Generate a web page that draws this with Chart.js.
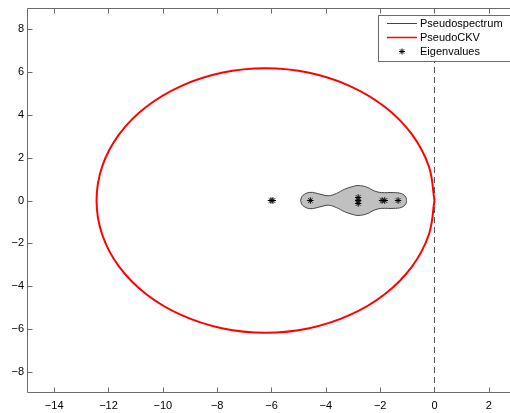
<!DOCTYPE html>
<html>
<head>
<meta charset="utf-8">
<script src="https://cdn.jsdelivr.net/npm/chart.js@4/dist/chart.umd.min.js"></script>
<style>
  html, body { margin: 0; padding: 0; overflow: hidden; background: #fff; width: 510px; height: 413px; }
  #c { display: block; }
</style>
</head>
<body>
<canvas id="c" width="510" height="413"></canvas>
<script>
// Axis ranges and tick marks (the view is open on the right, past x = 2)
const xRange = [-15, 2.78];
const yRange = [-9, 9];
const xTicks = [-14, -12, -10, -8, -6, -4, -2, 0, 2];
const yTicks = [-8, -6, -4, -2, 0, 2, 4, 6, 8];

// Eigenvalues (real and imaginary parts)
const eigRe = [-6.02, -5.95, -4.57, -2.81, -2.81, -2.81, -1.93, -1.83, -1.34];
const eigIm = [0, 0, 0, 0.14, 0, -0.14, 0, 0, 0];

// Pseudospectrum boundary (closed contour)
const psRe = [-4.93, -4.86, -4.59, -4.22, -3.91, -3.61, -3.30, -2.99, -2.81, -2.50, -2.20, -1.95, -1.52, -1.21, -1.06, -1.03,
              -1.06, -1.21, -1.52, -1.95, -2.20, -2.50, -2.81, -2.99, -3.30, -3.61, -3.91, -4.22, -4.59, -4.86, -4.93];
const psIm = [0, 0.22, 0.38, 0.30, 0.22, 0.33, 0.53, 0.66, 0.70, 0.63, 0.44, 0.37, 0.37, 0.32, 0.16, 0,
              -0.16, -0.32, -0.37, -0.37, -0.44, -0.63, -0.70, -0.66, -0.53, -0.33, -0.22, -0.30, -0.38, -0.22, 0];

// PseudoCKV boundary (closed contour)
const ckvRe = [0, -0.21, -0.83, -1.82, -3.11, -4.61, -6.22, -7.83, -9.33, -10.62, -11.61, -12.23, -12.44,
               -12.23, -11.61, -10.62, -9.33, -7.83, -6.22, -4.61, -3.11, -1.82, -0.83, -0.21, 0];
const ckvIm = [0, 1.60, 3.09, 4.37, 5.35, 5.97, 6.18, 5.97, 5.35, 4.37, 3.09, 1.60, 0,
               -1.60, -3.09, -4.37, -5.35, -5.97, -6.18, -5.97, -5.35, -4.37, -3.09, -1.60, 0];

// Imaginary axis (dashed)
const axisRe = [0, 0];
const axisIm = [-9, 9];

const pts = (xs, ys) => xs.map((x, i) => ({ x: x, y: ys[i] }));
const fmt = v => String(v).replace('-', '\u2212');
const FONT = '"Liberation Sans", Arial, Helvetica, sans-serif';

// Axes frame (left, top, bottom) with inward ticks
const frame = {
  id: 'frame',
  afterDatasetsDraw(chart) {
    const { ctx, chartArea: a, scales } = chart;
    const L = Math.round(a.left) + 0.5, R = Math.round(a.right);
    const T = Math.round(a.top) + 0.5, B = Math.round(a.bottom) - 0.5;
    const tl = 5;
    ctx.save();
    ctx.strokeStyle = '#6a6a6a';
    ctx.lineWidth = 1;
    ctx.beginPath();
    ctx.moveTo(R, T); ctx.lineTo(L, T); ctx.lineTo(L, B); ctx.lineTo(R, B);
    scales.x.ticks.forEach(t => {
      const px = Math.round(scales.x.getPixelForValue(t.value)) + 0.5;
      ctx.moveTo(px, B); ctx.lineTo(px, B - tl);
      ctx.moveTo(px, T); ctx.lineTo(px, T + tl);
    });
    scales.y.ticks.forEach(t => {
      const py = Math.round(scales.y.getPixelForValue(t.value)) + 0.5;
      ctx.moveTo(L, py); ctx.lineTo(L + tl, py);
    });
    ctx.stroke();
    ctx.restore();
  }
};

function asterisk(ctx, x, y, r) {
  ctx.beginPath();
  ctx.moveTo(x - r, y); ctx.lineTo(x + r, y);
  ctx.moveTo(x, y - r); ctx.lineTo(x, y + r);
  const d = r * 0.7071;
  ctx.moveTo(x - d, y - d); ctx.lineTo(x + d, y + d);
  ctx.moveTo(x - d, y + d); ctx.lineTo(x + d, y - d);
  ctx.stroke();
}

// Boxed legend in the upper right corner
const legendBox = {
  id: 'legendBox',
  afterDraw(chart) {
    const { ctx, chartArea: a } = chart;
    const items = chart.data.datasets.filter(d => d.label);
    const left = Math.round(a.right) - 132, right = left + 140, top = Math.round(a.top) + 7;
    const rowH = 14, h = 46;
    ctx.save();
    ctx.fillStyle = '#fff';
    ctx.fillRect(left, top, right - left, h);
    ctx.strokeStyle = '#6a6a6a';
    ctx.lineWidth = 1;
    ctx.strokeRect(left + 0.5, top + 0.5, right - left, h);
    ctx.font = '11px ' + FONT;
    ctx.textBaseline = 'middle';
    ctx.textAlign = 'left';
    items.forEach((d, i) => {
      const y = top + 8.5 + i * rowH;
      ctx.strokeStyle = d.legendColor;
      ctx.lineWidth = d.legendWidth;
      if (d.showLine) {
        ctx.beginPath();
        ctx.moveTo(left + 9, y); ctx.lineTo(left + 39, y);
        ctx.stroke();
      } else {
        asterisk(ctx, left + 24, y, 3);
      }
      ctx.fillStyle = '#000';
      ctx.fillText(d.label, left + 42, y);
    });
    ctx.restore();
  }
};

new Chart(document.getElementById('c'), {
  type: 'scatter',
  data: {
    datasets: [
      {
        label: 'Pseudospectrum',
        data: pts(psRe, psIm),
        showLine: true,
        tension: 0.4,
        borderColor: '#444',
        borderWidth: 1,
        backgroundColor: '#c0c0c0',
        fill: 'shape',
        pointRadius: 0,
        legendColor: '#444', legendWidth: 1,
        order: 2
      },
      {
        label: 'PseudoCKV',
        data: pts(ckvRe, ckvIm),
        showLine: true,
        tension: 0.4,
        borderColor: '#ff0000',
        borderWidth: 2,
        fill: false,
        pointRadius: 0,
        legendColor: '#ff0000', legendWidth: 1.5,
        order: 3
      },
      {
        label: 'Eigenvalues',
        data: pts(eigRe, eigIm),
        showLine: false,
        pointStyle: 'star',
        pointRadius: 3.2,
        pointBorderColor: '#000',
        pointBorderWidth: 1,
        legendColor: '#000', legendWidth: 1,
        order: 1
      },
      {
        label: '',
        data: pts(axisRe, axisIm),
        showLine: true,
        borderColor: '#555',
        borderWidth: 1,
        borderDash: [6, 4],
        pointRadius: 0,
        fill: false,
        order: 4
      }
    ]
  },
  options: {
    responsive: false,
    animation: false,
    devicePixelRatio: 1,
    layout: { autoPadding: false, padding: { top: 8, right: 0, left: 0, bottom: 0 } },
    plugins: { legend: { display: false }, tooltip: { enabled: false } },
    scales: {
      x: {
        type: 'linear',
        min: xRange[0], max: xRange[1],
        afterBuildTicks: s => { s.ticks = xTicks.map(v => ({ value: v })); },
        afterFit: s => { s.height = 20; s.paddingLeft = 0; s.paddingRight = 0; },
        grid: { display: false, drawTicks: false },
        border: { display: false },
        ticks: {
          autoSkip: false, maxRotation: 0, padding: 6,
          color: '#000', font: { family: FONT, size: 11 },
          callback: fmt
        }
      },
      y: {
        type: 'linear',
        min: yRange[0], max: yRange[1],
        afterBuildTicks: s => { s.ticks = yTicks.map(v => ({ value: v })); },
        afterFit: s => { s.width = 27; s.paddingTop = 0; s.paddingBottom = 0; },
        grid: { display: false, drawTicks: false },
        border: { display: false },
        ticks: {
          autoSkip: false, padding: 3,
          color: '#000', font: { family: FONT, size: 11 },
          callback: fmt
        }
      }
    }
  },
  plugins: [frame, legendBox]
});
</script>
</body>
</html>
